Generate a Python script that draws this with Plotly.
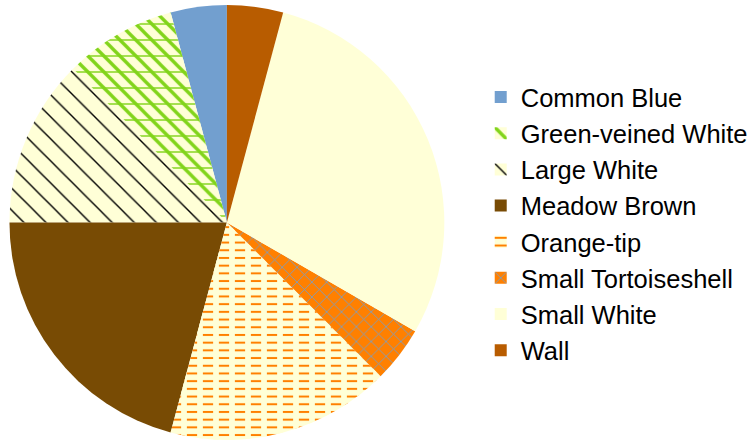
import plotly.graph_objects as go

# Butterfly sightings by species
species = ["Common Blue", "Green-veined White", "Large White", "Meadow Brown",
           "Orange-tip", "Small Tortoiseshell", "Small White", "Wall"]
counts = [1, 2, 3, 5, 4, 1, 7, 1]

# Fill colours and hatch styles per species
fill_colors = ["#729fcf", "#ffffd7", "#ffffd7", "#784b04",
               "#ffffd7", "#ff8000", "#ffffd7", "#b85c00"]
hatch_shapes = ["", "\\", "\\", "", "-", "x", "", ""]
hatch_colors = ["#729fcf", "#81d41a", "#000000", "#784b04",
                "#ff8000", "#729fcf", "#ffffd7", "#b85c00"]
hatch_sizes = [10, 11.3, 15.6, 10, 7.7, 10.5, 10, 10]
hatch_solidity = [0.3, 0.3, 0.09, 0.3, 0.26, 0.15, 0.3, 0.3]

# Second layer: horizontal veins on Green-veined White, gaps that break
# the Orange-tip lines into dashes
layer_shapes = ["", "-", "", "", "|", "", "", ""]
layer_colors = ["#ffffff", "#81d41a", "#ffffff", "#ffffff",
                "#ffffd7", "#ffffff", "#ffffff", "#ffffff"]
layer_sizes = [10, 16, 10, 10, 16, 10, 10, 10]
layer_solidity = [0.3, 0.09, 0.3, 0.3, 0.36, 0.3, 0.3, 0.3]

W, H = 753, 440
domain = dict(x=[9.5 / W, 445.5 / W], y=[0, 1 - 5 / H])
START_ANGLE = -15  # degrees; first slice ends at 12 o'clock

fig = go.Figure()
fig.add_trace(go.Pie(
    labels=species, values=counts, sort=False,
    direction="counterclockwise", rotation=START_ANGLE,
    textinfo="none", hoverinfo="label+value+percent",
    domain=domain,
    marker=dict(
        colors=fill_colors,
        line=dict(width=0),
        pattern=dict(shape=hatch_shapes, fgcolor=hatch_colors,
                     bgcolor=fill_colors, size=hatch_sizes,
                     solidity=hatch_solidity, fillmode="replace"),
    ),
))
fig.add_trace(go.Pie(
    labels=species, values=counts, sort=False,
    direction="counterclockwise", rotation=START_ANGLE,
    textinfo="none", hoverinfo="skip", showlegend=False,
    domain=domain,
    marker=dict(
        colors=["rgba(0,0,0,0)"] * len(species),
        line=dict(width=0),
        pattern=dict(shape=layer_shapes, fgcolor=layer_colors,
                     bgcolor=["rgba(0,0,0,0)"] * len(species),
                     size=layer_sizes, solidity=layer_solidity,
                     fillmode="replace"),
    ),
))

fig.update_layout(
    width=W, height=H,
    margin=dict(l=0, r=0, t=0, b=0),
    paper_bgcolor="white", plot_bgcolor="white",
    font=dict(family="Liberation Sans, Arial, sans-serif", size=25.5, color="#000000"),
    legend=dict(x=482 / W, xanchor="left", y=1 - 224 / H, yanchor="middle",
                font=dict(size=25.5), bgcolor="rgba(0,0,0,0)", borderwidth=0,
                itemclick=False, itemdoubleclick=False),
)

fig.write_html("out.html")
